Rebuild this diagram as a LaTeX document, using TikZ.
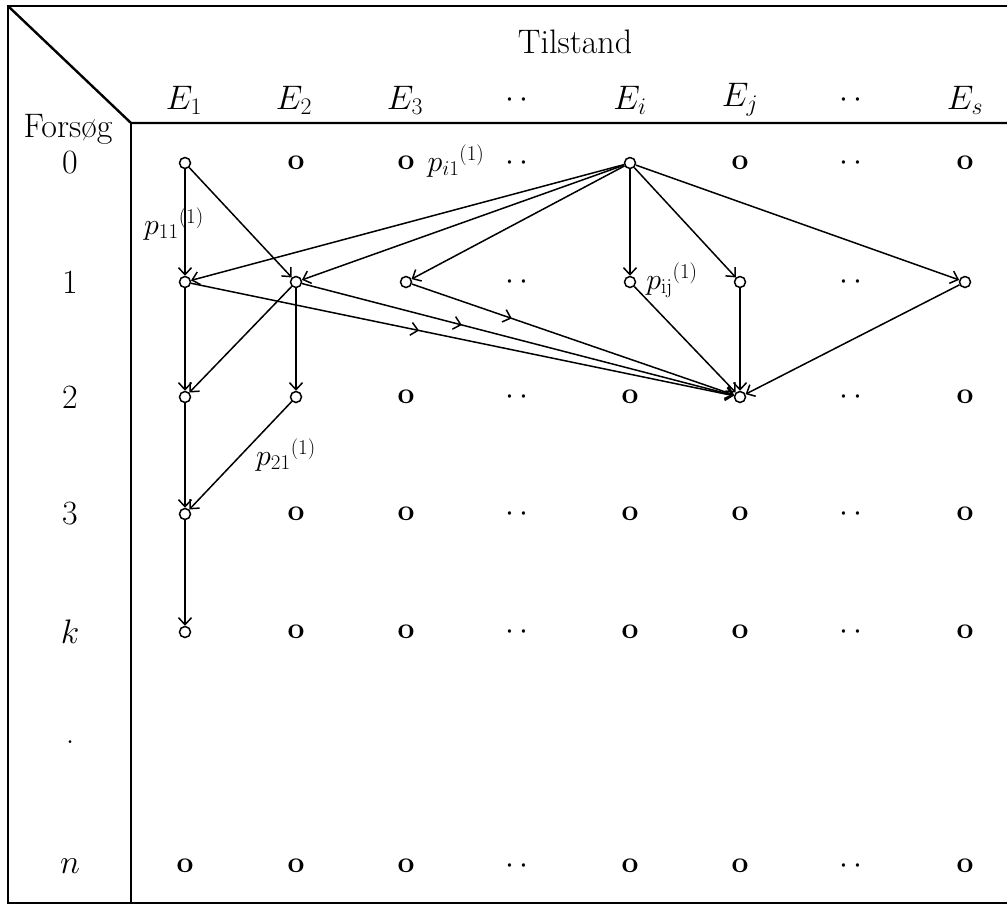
\RequirePackage{fix-cm}
\documentclass[tikz,border=0pt]{standalone}
\usetikzlibrary{arrows.meta,decorations.markings}
\newcommand\nodetextst{o}
\newcommand\nodetextcn{}
\begin{document}
\begin{tikzpicture}[x=1pt,y=-1pt,
  frame/.style={line width=2.4pt},
  lab/.style={font=\fontsize{34}{40}\selectfont, inner sep=0pt},
  pl/.style={font=\fontsize{30}{36}\selectfont, inner sep=0pt},
  st/.style={font=\fontsize{30}{34}\selectfont\bfseries, inner sep=0pt, circle},
  cn/.style={circle, draw, line width=1.5pt, minimum width=11pt, inner sep=0pt},
  dd/.style={font=\fontsize{32}{36}\selectfont, inner sep=0pt},
  ar/.style={line width=1.5pt, -{Straight Barb[length=7pt,width=13pt]}},
  midarrow/.style={postaction={decorate}, decoration={markings, mark=at position #1 with {\arrow{Straight Barb[length=7pt,width=13pt,line width=1.5pt]}}}},
]
\useasboundingbox (0,0) rectangle (1007,906);
% frame
\coordinate (tl) at (8,6);
\coordinate (tr) at (1007,6);
\coordinate (bl) at (8,903);
\coordinate (br) at (1007,903);
\coordinate (ic) at (131,123);
\coordinate (ir) at (1007,123);
\coordinate (ib) at (131,903);
\draw[frame] (tr) -- (tl) -- (bl) -- (br);
\draw[frame] (tl) -- (ic) -- (ir);
\draw[frame] (ic) -- (ib);
% headers
\node[lab] (tilstand) at (575,42) {Tilstand};
\node[lab] (forsog) at (68,129) {Forsøg};
\node[lab] (h1) at (184,100) {$E_1$};
\node[lab] (h2) at (294,100) {$E_2$};
\node[lab] (h3) at (405,100) {$E_3$};
\node[dd] (h4) at (517,100) {$\cdot\,\cdot$};
\node[lab] (h5) at (630,100) {$E_i$};
\node[lab] (h6) at (740,100) {$E_j$};
\node[dd] (h7) at (851,100) {$\cdot\,\cdot$};
\node[lab] (h8) at (965,100) {$E_s$};
% row labels
\node[lab] (r0) at (70,163) {0};
\node[lab] (r1) at (70,282) {1};
\node[lab] (r2) at (70,397) {2};
\node[lab] (r3) at (70,514) {3};
\node[lab] (rk) at (70,632) {$k$};
\node[lab] (rdot) at (70,742) {.};
\node[lab] (rn) at (70,866) {$n$};
% grid nodes
\foreach \r/\y/\la/\lb/\lc/\ld/\le/\lf in {
  0/163/cn/st/st/cn/st/st,
  1/282/cn/cn/cn/cn/cn/cn,
  2/397/cn/cn/st/st/cn/st,
  3/514/cn/st/st/st/st/st,
  k/632/cn/st/st/st/st/st,
  n/866/st/st/st/st/st/st} {
  \node[\la] (n1\r) at (185,\y) {\csname nodetext\la\endcsname};
  \node[\lb] (n2\r) at (296,\y) {\csname nodetext\lb\endcsname};
  \node[\lc] (n3\r) at (406,\y) {\csname nodetext\lc\endcsname};
  \node[\ld] (n5\r) at (630,\y) {\csname nodetext\ld\endcsname};
  \node[\le] (n6\r) at (740,\y) {\csname nodetext\le\endcsname};
  \node[\lf] (n8\r) at (965,\y) {\csname nodetext\lf\endcsname};
  \node[dd] (d4\r) at (517,\y) {$\cdot\,\cdot$};
  \node[dd] (d7\r) at (851,\y) {$\cdot\,\cdot$};
}
% edges
\draw[ar] (n10) -- (n11);
\draw[ar] (n10) -- (n21);
\foreach \t in {11,21,31,51,61,81} \draw[ar] (n50) -- (n\t);
\draw[ar] (n11) -- (n12);
\draw[ar, midarrow=0.42] (n11) -- (n62);
\draw[ar] (n21) -- (n12);
\draw[ar] (n21) -- (n22);
\draw[ar, midarrow=0.37] (n21) -- (n62);
\draw[ar, midarrow=0.31] (n31) -- (n62);
\draw[ar] (n51) -- (n62);
\draw[ar] (n61) -- (n62);
\draw[ar] (n81) -- (n62);
\draw[ar] (n12) -- (n13);
\draw[ar] (n22) -- (n13);
\draw[ar] (n13) -- (n1k);
% probability labels
\node[pl] (p11) at (174,224) {$p_{11}{}^{(1)}$};
\node[pl] (pi1) at (456,161) {$p_{i1}{}^{(1)}$};
\node[pl] (pij) at (672,280) {$p_{\mathrm{ij}}{}^{(1)}$};
\node[pl] (p21) at (286,455) {$p_{21}{}^{(1)}$};
\end{tikzpicture}
\end{document}
